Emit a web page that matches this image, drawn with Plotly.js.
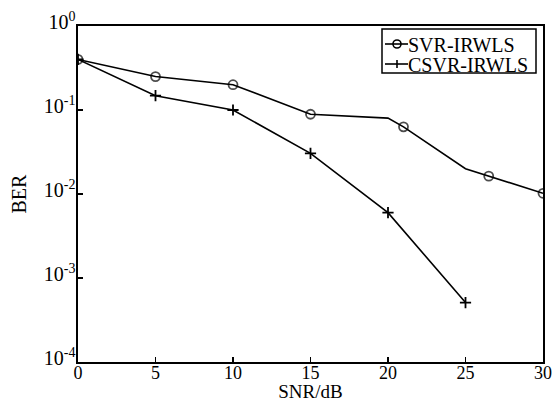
<!DOCTYPE html>
<html>
<head>
<meta charset="utf-8">
<script src="https://cdn.plot.ly/plotly-3.0.1.min.js"></script>
<style>html,body{margin:0;padding:0;background:#fff;}#chart{width:555px;height:402px;}</style>
</head>
<body>
<div id="chart"></div>
<script>
// SNR (dB) and BER values
var snrSVR = [0, 5, 10, 15, 20, 21, 25, 26.5, 30];
var berSVR = [0.40, 0.25, 0.20, 0.089, 0.080, 0.063, 0.020, 0.0163, 0.0102];
var markSVR = [true, true, true, true, false, true, false, true, true];

var snrCSVR = [0, 5, 10, 15, 20, 25];
var berCSVR = [0.40, 0.148, 0.10, 0.0305, 0.006, 0.00051];

var seriesNames = ['SVR-IRWLS', 'CSVR-IRWLS'];
var xTickVals = [0, 5, 10, 15, 20, 25, 30];
var yTickVals = [1, 0.1, 0.01, 0.001, 0.0001];
var yTickText = ['10<sup>0</sup>', '10<sup>-1</sup>', '10<sup>-2</sup>', '10<sup>-3</sup>', '10<sup>-4</sup>'];

var FONT = 'Liberation Serif, Times New Roman, serif';

var traces = [
  {
    x: snrSVR, y: berSVR, name: seriesNames[0], type: 'scatter', mode: 'lines+markers',
    line: {color: '#000', width: 1.6},
    marker: {symbol: 'circle-open', color: '#000', size: markSVR.map(function(m){return m ? 9 : 0;}), line: {width: 1.8, color: '#000'}}
  },
  {
    x: snrCSVR, y: berCSVR, name: seriesNames[1], type: 'scatter', mode: 'lines+markers',
    line: {color: '#000', width: 1.6},
    marker: {symbol: 'cross-thin-open', color: '#000', size: 8, line: {width: 1.8, color: '#000'}}
  }
];

// Legend drawn in paper coordinates (box, sample lines, sample markers, labels)
var W = 465, H = 336; // plot area in px
function px(x) { return (x - 78) / W; }
function py(y) { return (362 - y) / H; }
var rowY = [44, 64];
var shapes = [
  {type: 'rect', xref: 'paper', yref: 'paper', x0: px(382), x1: px(536), y0: py(73), y1: py(29),
   line: {color: '#000', width: 1.5}, fillcolor: '#fff', layer: 'above'}
];
rowY.forEach(function(ry, i) {
  shapes.push({type: 'line', xref: 'paper', yref: 'paper', x0: px(385), x1: px(408), y0: py(ry), y1: py(ry),
    line: {color: '#000', width: 1.6}, layer: 'above'});
  if (i === 0) {
    shapes.push({type: 'circle', xref: 'paper', yref: 'paper', x0: px(393), x1: px(401), y0: py(ry + 4), y1: py(ry - 4),
      line: {color: '#000', width: 1.6}, fillcolor: 'rgba(0,0,0,0)', layer: 'above'});
  } else {
    shapes.push({type: 'line', xref: 'paper', yref: 'paper', x0: px(397), x1: px(397), y0: py(ry + 4), y1: py(ry - 4),
      line: {color: '#000', width: 1.6}, layer: 'above'});
  }
});
var annotations = rowY.map(function(ry, i) {
  return {xref: 'paper', yref: 'paper', x: px(407), y: py(ry), xanchor: 'left', yanchor: 'middle',
    height: 19, valign: 'middle', borderpad: 0,
    text: seriesNames[i], showarrow: false, font: {family: FONT, size: 20, color: '#000'}};
});

var layout = {
  width: 555, height: 402,
  margin: {l: 78, r: 12, t: 26, b: 40},
  paper_bgcolor: '#fff', plot_bgcolor: '#fff',
  font: {family: FONT, color: '#000', size: 18},
  showlegend: false,
  shapes: shapes,
  annotations: annotations,
  xaxis: {
    range: [0, 30], tickvals: xTickVals, ticks: 'inside', ticklen: 5, tickwidth: 1.5, tickcolor: '#000',
    showline: true, linecolor: '#000', linewidth: 1.6, mirror: true, showgrid: false, zeroline: false,
    tickfont: {family: FONT, size: 18, color: '#000'}, ticklabelstandoff: -6,
    title: {text: 'SNR/dB', font: {family: FONT, size: 19, color: '#000'}, standoff: 7},
    automargin: false
  },
  yaxis: {
    type: 'log', range: [-4, 0], tickvals: yTickVals, ticktext: yTickText,
    ticks: 'inside', ticklen: 5, tickwidth: 1.5, tickcolor: '#000',
    showline: true, linecolor: '#000', linewidth: 1.6, mirror: true, showgrid: false, zeroline: false,
    tickfont: {family: FONT, size: 20, color: '#000'}, ticklabelstandoff: -3, ticklabelshift: -4,
    title: {text: 'BER', font: {family: FONT, size: 20, color: '#000'}, standoff: 12},
    automargin: false
  }
};

Plotly.newPlot('chart', traces, layout, {displayModeBar: false, staticPlot: true});
</script>
</body>
</html>
